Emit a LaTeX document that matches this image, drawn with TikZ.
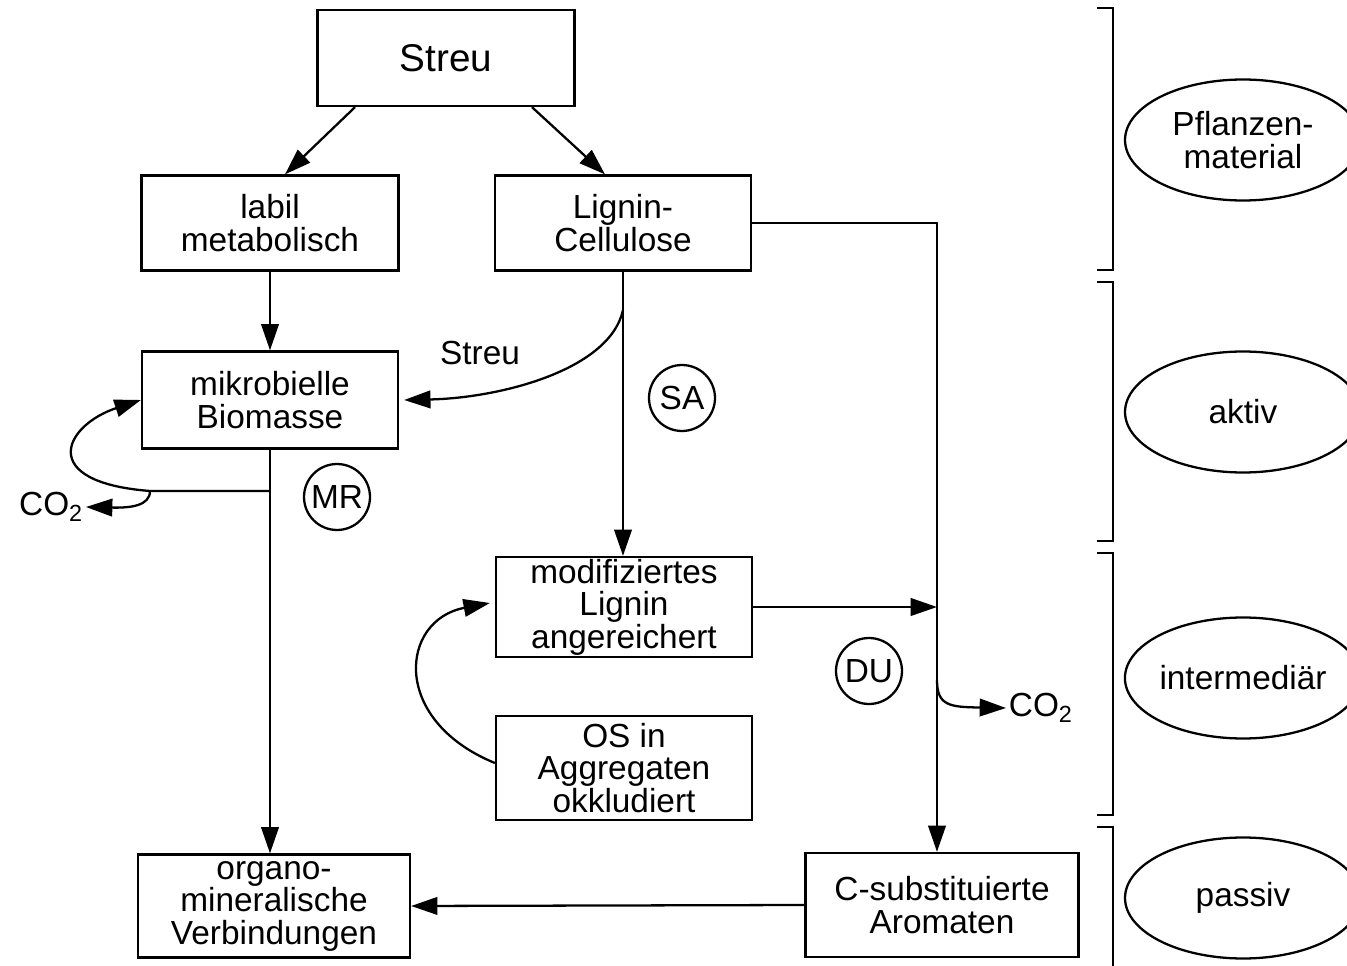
\documentclass[tikz,border=0pt]{standalone}
\usepackage{fontspec}
\setmainfont{Liberation Sans}
\usetikzlibrary{arrows.meta,shapes.geometric}

\begin{document}
\begin{tikzpicture}[x=0.02cm,y=-0.02cm,
    line width=1.3pt,
    box/.style={draw,rectangle,align=center,inner sep=0pt,
      font=\fontsize{19}{18.5}\selectfont},
    pool/.style={draw,circle,minimum size=1.32cm,inner sep=0pt,
      font=\fontsize{19}{19}\selectfont},
    zone/.style={draw,ellipse,minimum width=4.72cm,minimum height=2.42cm,
      align=center,inner sep=0pt,font=\fontsize{19}{18.5}\selectfont},
    lbl/.style={inner sep=1pt,font=\fontsize{19}{19}\selectfont},
    arr/.style={-{Triangle[length=15pt,width=10pt]}}]
  \useasboundingbox (0,0) rectangle (1347,966);
  \clip (0,0) rectangle (1347,966);

  % Draw boxes
  \node[box,minimum width=5.14cm,minimum height=1.92cm,
    font=\fontsize{22}{22}\selectfont] (streu) at (446,58) {Streu};
  \node[box,minimum width=5.14cm,minimum height=1.9cm] (labil) at (270,223) {labil\\metabolisch};
  \node[box,minimum width=5.12cm,minimum height=1.9cm] (lignin) at (623,223) {Lignin-\\Cellulose};
  \node[box,minimum width=5.12cm,minimum height=1.94cm] (mikro) at (270,400) {mikrobielle\\Biomasse};
  \node[box,minimum width=5.12cm,minimum height=2.0cm] (modlig) at (624,607) {modifiziertes\\Lignin\\angereichert};
  \node[box,minimum width=5.12cm,minimum height=2.08cm] (os) at (624,768) {OS in\\Aggregaten\\okkludiert};
  \node[box,minimum width=5.44cm,minimum height=2.06cm] (organo) at (274,906) {organo-\\mineralische\\Verbindungen};
  \node[box,minimum width=5.46cm,minimum height=2.08cm] (caro) at (942,905) {C-substituierte\\Aromaten};

  % Draw circles
  \node[pool] (sa) at (682,398) {SA};
  \node[pool] (mr) at (337,497) {MR};
  \node[pool] (du) at (869,671) {DU};

  % Labels
  \node[lbl] (streulbl) at (480,353) {Streu};
  \node[lbl,anchor=east] (co2a) at (86,507) {CO\textsubscript{2}};
  \node[lbl,anchor=west] (co2b) at (1006,708) {CO\textsubscript{2}};

  % Split points
  \coordinate (lsplit) at (623,310);
  \coordinate (msplit) at (270,491);
  \coordinate (mbranch) at (150,491);
  \coordinate (corner) at (937,223);
  \coordinate (rsplit) at (937,680);

  % Connect boxes with arrows
  \draw[arr] ([xshift=-1.82cm]streu.south) -- ([xshift=0.3cm]labil.north);
  \draw[arr] ([xshift=1.72cm]streu.south) -- ([xshift=-0.36cm]lignin.north);
  \draw[arr] (labil.south) -- (mikro.north);
  \draw[arr] (lignin.south) -- (lignin.south |- modlig.north);
  \draw[arr] (lsplit) .. controls (610,370) and (500,398) .. ([xshift=0.1cm]mikro.east);
  \draw[arr] (mikro.south) -- (mikro.south |- organo.north);
  \draw[arr] (msplit) -- (mbranch) .. controls (35,482) and (65,425) .. (mikro.west);
  \draw[arr] (mbranch) .. controls (150,506) and (130,508) .. (co2a.east);
  \draw[arr] (lignin.east) -- (corner) -- (corner |- caro.north);
  \draw[arr] (modlig.east) -- (corner |- modlig.east);
  \draw[arr] (rsplit) .. controls (937,706) and (950,707) .. (co2b.west);
  \draw[arr] ([yshift=0.1cm]os.west) .. controls (390,720) and (400,620) .. ([xshift=-0.1cm,yshift=0.08cm]modlig.west);
  \draw[arr] (caro.west) -- (organo.east);

  % Brackets and zones
  \foreach \ya/\yb in {8/270, 282/541, 553/815, 827/980}
    \draw (1097,\ya) -- (1113,\ya) -- (1113,\yb) -- (1097,\yb);
  \node[zone] (pflanze) at (1243,140) {Pflanzen-\\material};
  \node[zone] (aktiv) at (1243,412) {aktiv};
  \node[zone] (inter) at (1243,678) {intermediär};
  \node[zone] (passiv) at (1243,898) {passiv};
\end{tikzpicture}
\end{document}
